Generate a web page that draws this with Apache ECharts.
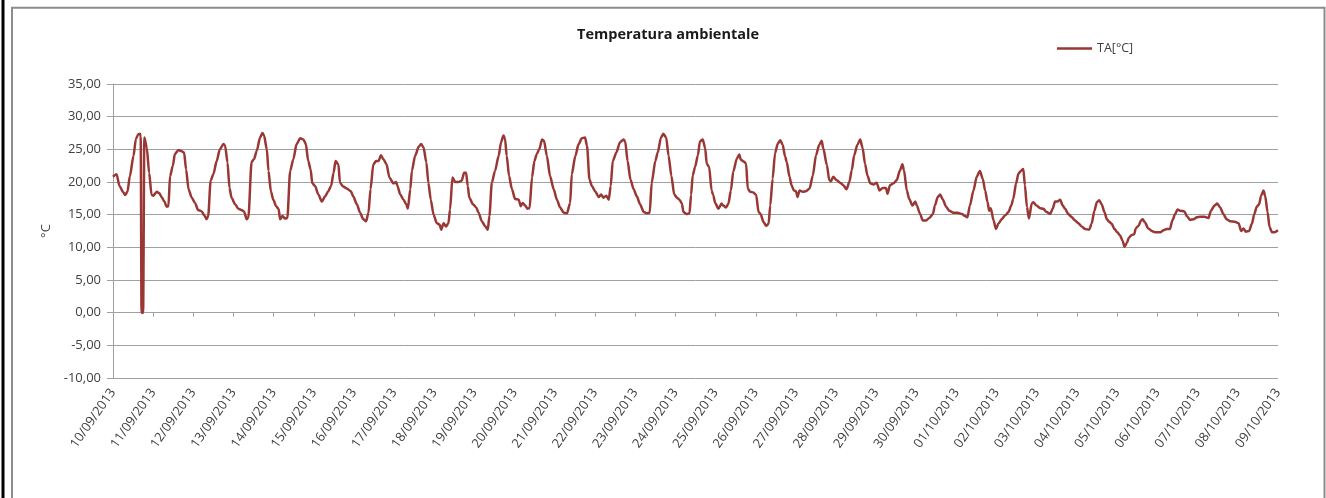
<!DOCTYPE html>
<html><head><meta charset="utf-8">
<script src="https://cdn.jsdelivr.net/npm/echarts@6/dist/echarts.min.js"></script>
<style>html,body{margin:0;padding:0;background:#fff}#c{width:1326px;height:498px}</style>
</head><body><div id="c"></div>
<script>
const chartTitle = 'Temperatura ambientale';
const seriesName = 'TA[°C]';
const yName = '°C';
const dateLabels = ['10/09/2013','11/09/2013','12/09/2013','13/09/2013','14/09/2013','15/09/2013','16/09/2013','17/09/2013','18/09/2013','19/09/2013','20/09/2013','21/09/2013','22/09/2013','23/09/2013','24/09/2013','25/09/2013','26/09/2013','27/09/2013','28/09/2013','29/09/2013','30/09/2013','01/10/2013','02/10/2013','03/10/2013','04/10/2013','05/10/2013','06/10/2013','07/10/2013','08/10/2013','09/10/2013'];
// time in days since 10/09/2013 00:00
const times = [0,0.09,0.16,0.26,0.30,0.36,0.42,0.51,0.57,0.63,0.67,0.69,0.71,0.75,0.78,0.84,0.90,0.96,1.00,1.09,1.15,1.21,1.27,1.34,1.38,1.42,1.49,1.54,1.63,1.71,1.77,1.82,1.88,1.96,2.04,2.12,2.21,2.27,2.33,2.37,2.43,2.50,2.58,2.66,2.75,2.79,2.85,2.90,2.95,3.04,3.12,3.20,3.26,3.33,3.37,3.45,3.51,3.58,3.66,3.72,3.76,3.83,3.87,3.93,3.99,4.06,4.12,4.16,4.22,4.28,4.34,4.41,4.49,4.57,4.66,4.74,4.80,4.86,4.92,4.96,5.03,5.11,5.20,5.28,5.36,5.43,5.49,5.54,5.61,5.65,5.73,5.82,5.92,5.98,6.07,6.15,6.23,6.30,6.36,6.41,6.48,6.55,6.61,6.67,6.73,6.81,6.88,6.98,7.05,7.08,7.15,7.23,7.30,7.34,7.40,7.44,7.52,7.61,7.67,7.73,7.80,7.85,7.91,7.98,8.06,8.13,8.17,8.23,8.29,8.35,8.39,8.45,8.52,8.60,8.68,8.74,8.79,8.83,8.87,8.96,9.04,9.10,9.18,9.27,9.33,9.37,9.43,9.51,9.60,9.66,9.72,9.76,9.80,9.86,9.93,10.01,10.10,10.15,10.20,10.26,10.32,10.37,10.43,10.49,10.55,10.61,10.68,10.73,10.80,10.88,10.97,11.05,11.13,11.22,11.30,11.38,11.42,11.51,11.59,11.67,11.75,11.80,11.86,11.92,12.00,12.09,12.15,12.21,12.28,12.34,12.39,12.44,12.53,12.62,12.71,12.75,12.81,12.88,12.96,13.04,13.12,13.21,13.29,13.36,13.41,13.50,13.56,13.64,13.70,13.77,13.83,13.90,13.97,14.04,14.10,14.16,14.20,14.28,14.35,14.39,14.43,14.49,14.56,14.61,14.68,14.74,14.78,14.84,14.90,14.94,14.99,15.07,15.15,15.19,15.26,15.32,15.38,15.44,15.53,15.59,15.63,15.71,15.76,15.80,15.86,15.94,16.01,16.07,16.12,16.19,16.26,16.32,16.36,16.42,16.48,16.55,16.61,16.67,16.73,16.77,16.84,16.89,16.95,17.00,17.04,17.09,17.17,17.25,17.34,17.42,17.50,17.58,17.64,17.68,17.77,17.83,17.87,17.93,18.01,18.10,18.18,18.26,18.33,18.39,18.45,18.53,18.60,18.66,18.72,18.78,18.85,18.93,19.01,19.08,19.16,19.24,19.28,19.34,19.43,19.51,19.59,19.65,19.69,19.76,19.82,19.90,19.97,20.01,20.09,20.16,20.24,20.32,20.41,20.46,20.53,20.59,20.65,20.74,20.82,20.92,21.02,21.13,21.21,21.27,21.33,21.42,21.50,21.58,21.65,21.71,21.77,21.81,21.85,21.92,21.98,22.04,22.12,22.21,22.29,22.36,22.41,22.48,22.54,22.60,22.66,22.70,22.75,22.80,22.87,22.91,22.99,23.08,23.16,23.24,23.33,23.39,23.45,23.51,23.58,23.64,23.70,23.78,23.87,23.95,24.03,24.11,24.20,24.30,24.36,24.43,24.49,24.55,24.61,24.68,24.74,24.80,24.86,24.93,25.00,25.07,25.13,25.18,25.24,25.29,25.36,25.42,25.46,25.53,25.59,25.63,25.69,25.77,25.86,25.94,26.07,26.15,26.23,26.31,26.37,26.44,26.50,26.56,26.67,26.73,26.81,26.90,26.98,27.06,27.17,27.27,27.33,27.42,27.49,27.56,27.64,27.72,27.81,27.93,28.02,28.08,28.14,28.20,28.28,28.35,28.41,28.47,28.53,28.58,28.64,28.68,28.74,28.79,28.85,28.91,29.00];
const temps = [20.8,21.2,19.4,18.4,18.0,18.5,20.9,24.0,26.6,27.3,27.4,27.0,0,0,26.8,25.3,21.4,18.0,17.9,18.5,18.3,17.7,17.1,16.2,16.3,20.9,22.5,24.3,24.9,24.7,24.5,21.9,18.9,17.6,16.8,15.7,15.5,14.9,14.3,14.8,20.2,21.2,23.2,25.0,25.8,25.6,23.0,19.1,17.6,16.6,15.9,15.7,15.5,14.3,14.6,23.1,23.5,24.8,26.8,27.5,27.1,25.0,21.7,18.6,17.3,16.3,15.9,14.3,14.8,14.4,14.5,21.7,23.5,25.8,26.7,26.5,25.8,23.2,21.9,19.8,19.4,18.1,17.0,17.8,18.6,19.4,21.4,23.2,22.7,19.9,19.3,19.0,18.6,17.8,16.6,15.3,14.3,14.0,15.3,18.9,22.7,23.2,23.2,24.1,23.5,22.7,20.7,19.8,20.0,19.4,18.1,17.3,16.6,15.9,18.9,21.7,24.0,25.4,25.8,25.3,23.0,19.9,17.3,15.0,13.7,13.5,12.7,13.7,13.2,13.7,15.8,20.7,20.0,20.0,20.2,21.4,21.4,19.4,17.6,16.6,16.1,15.3,14.0,13.2,12.7,14.8,19.9,21.7,24.0,26.1,27.1,26.6,24.0,20.9,18.9,17.4,17.3,16.3,16.8,16.4,15.9,16.0,20.7,23.2,24.3,25.0,26.5,26.3,24.0,20.9,18.9,17.3,16.1,15.3,15.2,16.8,21.2,24.0,25.8,26.7,26.8,25.5,20.4,19.4,18.6,17.7,18.1,17.6,17.9,17.3,19.4,23.2,24.5,26.1,26.5,26.2,23.2,20.4,18.9,17.8,16.6,15.4,15.2,15.3,19.9,23.2,24.5,26.8,27.4,26.8,24.0,20.9,18.1,17.6,17.3,16.7,15.4,15.1,15.2,18.0,21.0,22.3,24.1,26.2,26.5,25.2,22.8,22.3,18.7,18.0,16.8,15.9,16.7,16.4,16.1,16.7,18.7,21.6,23.6,24.2,23.4,23.1,22.8,19.0,18.5,18.4,18.0,15.4,15.1,13.9,13.3,13.6,16.4,20.5,24.4,25.9,26.4,25.7,23.9,23.1,20.8,19.5,18.7,18.6,17.7,18.7,18.5,18.6,19.0,21.0,24.1,25.7,26.3,25.2,22.6,20.3,20.1,20.8,20.3,19.9,19.5,18.9,20.0,21.8,24.1,25.7,26.5,25.2,22.8,21.0,19.8,19.6,19.9,18.7,19.1,19.1,18.2,19.5,19.8,20.3,21.8,22.7,21.8,18.7,17.4,16.4,17.0,16.4,15.1,14.1,14.1,14.5,15.1,16.4,17.7,18.1,17.4,16.2,15.6,15.3,15.3,15.1,14.8,14.6,16.4,18.7,20.8,21.7,20.5,18.7,16.9,15.6,16.0,14.1,12.8,13.6,14.3,14.9,15.4,16.4,17.4,19.8,21.3,21.7,22.0,19.5,16.2,14.4,16.7,16.9,16.4,16.0,15.9,15.4,15.1,15.9,17.0,17.0,17.3,16.4,15.9,15.1,14.6,14.1,13.7,13.2,12.8,12.7,13.6,15.6,16.9,17.2,16.6,15.4,14.3,13.9,13.6,12.8,12.3,11.8,11.0,10.1,10.7,11.5,11.9,12.0,12.9,13.3,14.1,14.3,13.8,12.9,12.5,12.3,12.3,12.6,12.8,12.8,14.1,15.1,15.8,15.6,15.5,14.8,14.2,14.3,14.6,14.7,14.7,14.5,15.6,16.4,16.7,16.1,15.1,14.3,14.0,13.9,13.7,12.5,12.9,12.4,12.5,13.6,15.1,16.2,16.6,17.9,18.7,17.9,15.4,13.1,12.3,12.3,12.6];

const gridGray = '#a0a0a0';
const textGray = '#404040';
const font = 'Open Sans';

const chart = echarts.init(document.getElementById('c'), null, {renderer: 'canvas'});
chart.setOption({
  animation: false,
  backgroundColor: '#ffffff',
  graphic: [
    {type: 'rect', shape: {x: 1.5, y: 0, width: 3, height: 498}, style: {fill: '#000000'}, silent: true},
    {type: 'rect', shape: {x: 12, y: 7.7, width: 1312.5, height: 520}, style: {fill: 'none', stroke: '#8c8c8c', lineWidth: 2}, silent: true}
  ],
  title: {
    text: chartTitle, left: 663, top: 22, textAlign: 'center',
    textStyle: {fontFamily: font, fontSize: 14.5, fontWeight: 'bold', color: '#1a1a1a'}
  },
  legend: {
    data: [{name: seriesName, icon: 'rect'}], left: 1052, top: 37, itemWidth: 35, itemHeight: 2.5, itemGap: 5,
    textStyle: {fontFamily: font, fontSize: 12.5, color: textGray}
  },
  grid: {left: 113, right: 48, top: 84, bottom: 120, containLabel: false},
  xAxis: [
    {
      type: 'value', min: 0, max: dateLabels.length - 1, interval: 1, position: 'bottom',
      axisLine: {show: false, onZero: false}, axisTick: {show: false}, splitLine: {show: false},
      axisLabel: {rotate: 55, margin: 12, fontFamily: font, fontSize: 13, color: textGray,
        formatter: v => dateLabels[Math.round(v)] || ''}
    },
    {
      type: 'value', min: 0, max: dateLabels.length - 1, interval: 1, position: 'bottom',
      axisLine: {show: true, onZero: true, lineStyle: {color: gridGray, width: 1}},
      axisTick: {show: true, inside: false, length: 4, lineStyle: {color: gridGray}},
      axisLabel: {show: false}, splitLine: {show: false}
    }
  ],
  yAxis: {
    type: 'value', min: -10, max: 35, interval: 5,
    name: yName, nameLocation: 'middle', nameGap: 58, nameRotate: 90,
    nameTextStyle: {fontFamily: font, fontSize: 13, color: textGray},
    axisLine: {show: true, lineStyle: {color: gridGray}},
    axisTick: {show: true, length: 6, lineStyle: {color: gridGray}},
    splitLine: {show: true, lineStyle: {color: gridGray, width: 1}},
    axisLabel: {margin: 12, fontFamily: font, fontSize: 13, color: textGray,
      formatter: v => v.toFixed(2).replace('.', ',')}
  },
  series: [{
    name: seriesName, type: 'line', xAxisIndex: 0,
    data: times.map((t, i) => [t, temps[i]]),
    symbol: 'none', showSymbol: false, smooth: 0.25, smoothMonotone: 'x',
    lineStyle: {color: '#993735', width: 2.5},
    itemStyle: {color: '#993735'}
  }]
});
</script></body></html>
